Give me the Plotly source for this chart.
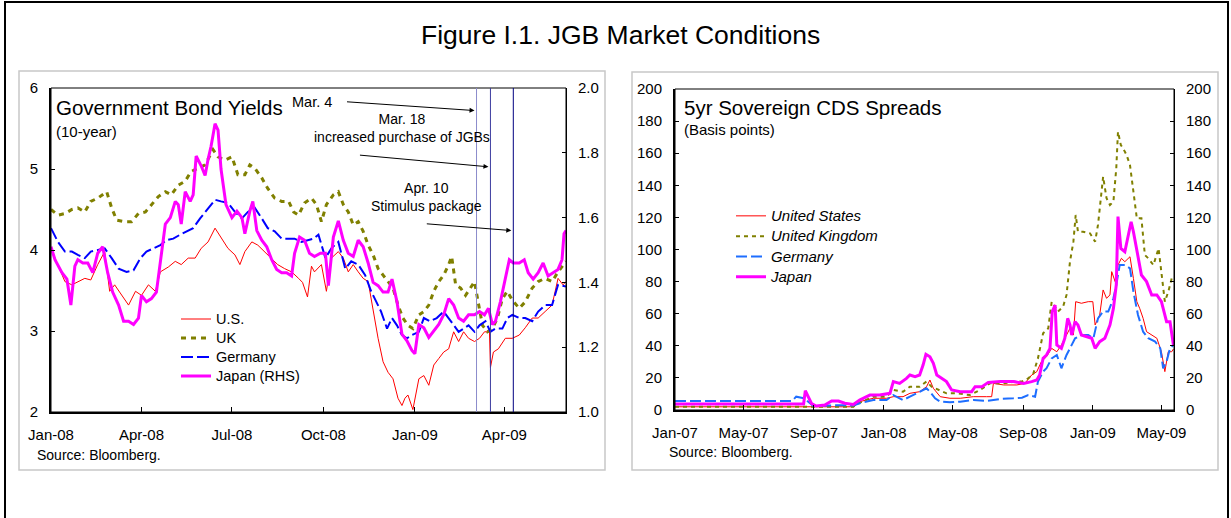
import plotly.graph_objects as go

W, H = 1231, 518
FONT = "Liberation Sans, Arial, sans-serif"

# ---------------- Left panel: 10-year government bond yields ----------------
us_dates = ["2008-01-01","2008-01-08","2008-01-15","2008-01-22","2008-01-28","2008-02-04","2008-02-10","2008-02-17",
            "2008-02-24","2008-02-29","2008-03-05","2008-03-12","2008-03-19","2008-03-26","2008-04-01","2008-04-08",
            "2008-04-15","2008-04-20","2008-04-28","2008-05-05","2008-05-11","2008-05-18","2008-05-25","2008-05-31",
            "2008-06-07","2008-06-14","2008-06-20","2008-06-27","2008-07-04","2008-07-09","2008-07-14","2008-07-21",
            "2008-07-27","2008-08-03","2008-08-10","2008-08-16","2008-08-23","2008-08-30","2008-09-06","2008-09-10",
            "2008-09-15","2008-09-19","2008-09-22","2008-09-29","2008-10-04","2008-10-09","2008-10-16","2008-10-21",
            "2008-10-26","2008-10-31","2008-11-05","2008-11-10","2008-11-15","2008-11-18","2008-11-22","2008-11-25",
            "2008-11-30","2008-12-05","2008-12-10","2008-12-15","2008-12-19","2008-12-22","2008-12-25","2008-12-30",
            "2009-01-05","2009-01-10","2009-01-15","2009-01-20","2009-01-25","2009-01-30","2009-02-04","2009-02-09",
            "2009-02-14","2009-02-19","2009-02-24","2009-03-02","2009-03-07","2009-03-12","2009-03-17","2009-03-18",
            "2009-03-21","2009-03-26","2009-04-02","2009-04-09","2009-04-16","2009-04-22","2009-04-29","2009-05-05",
            "2009-05-12","2009-05-19","2009-05-25","2009-05-30","2009-06-02"]
us_yield = [4.02,3.82,3.61,3.57,3.61,3.65,3.63,3.82,3.98,3.49,3.57,3.44,3.32,3.49,3.44,3.57,3.49,3.73,3.79,3.86,
            3.82,3.90,3.90,4.02,4.10,4.27,4.15,4.02,3.94,3.82,3.98,4.10,4.06,3.98,3.90,3.82,3.77,3.73,3.65,3.60,
            3.42,3.80,3.73,3.82,3.49,3.90,3.98,3.90,3.73,3.82,3.73,3.65,3.61,3.40,3.16,2.91,2.62,2.49,2.41,2.17,
            2.08,2.17,2.21,2.03,2.41,2.45,2.33,2.58,2.66,2.74,2.78,2.99,2.87,2.99,2.91,2.87,2.91,2.99,2.99,2.55,
            2.74,2.78,2.91,2.91,2.95,3.04,3.16,3.16,3.24,3.32,3.65,3.57,3.61]

uk_dates = ["2008-01-01","2008-01-08","2008-01-15","2008-01-22","2008-01-28","2008-02-04","2008-02-10","2008-02-17",
            "2008-02-26","2008-03-02","2008-03-07","2008-03-15","2008-03-22","2008-03-29","2008-04-05","2008-04-11",
            "2008-04-18","2008-04-25","2008-05-01","2008-05-08","2008-05-15","2008-05-21","2008-05-28","2008-06-04",
            "2008-06-12","2008-06-17","2008-06-24","2008-07-01","2008-07-07","2008-07-14","2008-07-19","2008-07-24",
            "2008-07-31","2008-08-06","2008-08-13","2008-08-20","2008-08-27","2008-09-01","2008-09-06","2008-09-12",
            "2008-09-19","2008-09-24","2008-09-29","2008-10-04","2008-10-11","2008-10-16","2008-10-21","2008-10-26",
            "2008-10-31","2008-11-05","2008-11-10","2008-11-15","2008-11-20","2008-11-25","2008-11-30","2008-12-05",
            "2008-12-10","2008-12-15","2008-12-20","2008-12-25","2008-12-30","2009-01-05","2009-01-10","2009-01-15",
            "2009-01-20","2009-01-25","2009-01-30","2009-02-04","2009-02-07","2009-02-11","2009-02-16","2009-02-21",
            "2009-02-26","2009-03-02","2009-03-05","2009-03-10","2009-03-15","2009-03-20","2009-03-25","2009-03-30",
            "2009-04-04","2009-04-09","2009-04-16","2009-04-22","2009-04-29","2009-05-05","2009-05-12","2009-05-19",
            "2009-05-25","2009-06-02"]
uk_yield = [4.50,4.43,4.45,4.50,4.52,4.47,4.60,4.64,4.72,4.52,4.37,4.35,4.35,4.45,4.47,4.56,4.66,4.72,4.68,4.80,
            4.85,4.97,5.01,5.05,5.24,5.15,5.11,5.15,4.93,4.93,5.05,5.01,4.89,4.76,4.64,4.60,4.60,4.47,4.43,4.58,
            4.64,4.56,4.35,4.56,4.68,4.72,4.56,4.47,4.31,4.35,4.23,4.06,3.94,3.77,3.69,3.61,3.53,3.32,3.16,3.07,
            3.03,3.20,3.24,3.32,3.49,3.61,3.69,3.82,3.92,3.57,3.53,3.44,3.53,3.61,3.40,3.07,2.99,3.03,3.16,3.40,
            3.49,3.38,3.28,3.36,3.53,3.61,3.65,3.61,3.73,3.86]

de_dates = ["2008-01-01","2008-01-08","2008-01-15","2008-01-22","2008-01-28","2008-02-04","2008-02-10","2008-02-17",
            "2008-02-24","2008-03-02","2008-03-09","2008-03-17","2008-03-24","2008-03-31","2008-04-06","2008-04-13",
            "2008-04-20","2008-04-26","2008-05-03","2008-05-10","2008-05-16","2008-05-23","2008-05-30","2008-06-07",
            "2008-06-14","2008-06-20","2008-06-27","2008-07-04","2008-07-11","2008-07-17","2008-07-24","2008-07-31",
            "2008-08-06","2008-08-13","2008-08-20","2008-08-27","2008-09-02","2008-09-09","2008-09-16","2008-09-21",
            "2008-09-26","2008-10-03","2008-10-09","2008-10-16","2008-10-23","2008-10-29","2008-11-05","2008-11-12",
            "2008-11-18","2008-11-23","2008-11-28","2008-12-04","2008-12-09","2008-12-14","2008-12-19","2008-12-24",
            "2008-12-29","2009-01-05","2009-01-10","2009-01-16","2009-01-23","2009-01-30","2009-02-04","2009-02-09",
            "2009-02-14","2009-02-19","2009-02-24","2009-03-02","2009-03-07","2009-03-13","2009-03-18","2009-03-23",
            "2009-03-30","2009-04-04","2009-04-09","2009-04-16","2009-04-22","2009-04-29","2009-05-05","2009-05-12",
            "2009-05-19","2009-05-25","2009-06-02"]
de_yield = [4.27,4.10,3.98,3.98,3.94,3.90,3.98,4.00,4.02,3.90,3.77,3.73,3.75,3.90,3.98,4.02,4.06,4.12,4.14,4.19,
            4.23,4.27,4.39,4.52,4.62,4.60,4.58,4.47,4.39,4.47,4.52,4.39,4.27,4.23,4.14,4.14,4.14,4.10,4.12,4.14,
            4.19,3.90,4.02,4.10,3.77,3.86,3.82,3.69,3.49,3.36,3.24,3.03,3.16,3.07,2.95,2.91,2.95,2.99,3.16,3.12,
            3.16,3.24,3.16,3.07,2.99,3.03,3.07,2.99,3.07,3.12,2.99,3.03,3.03,3.16,3.20,3.16,3.16,3.12,3.24,3.32,
            3.32,3.57,3.55]

jp_dates = ["2008-01-01","2008-01-05","2008-01-12","2008-01-17","2008-01-21","2008-01-25","2008-01-28","2008-02-02",
            "2008-02-07","2008-02-12","2008-02-17","2008-02-22","2008-02-27","2008-03-03","2008-03-09","2008-03-14",
            "2008-03-19","2008-03-24","2008-03-29","2008-04-01","2008-04-06","2008-04-11","2008-04-16","2008-04-21",
            "2008-04-25","2008-04-30","2008-05-05","2008-05-08","2008-05-11","2008-05-15","2008-05-20","2008-05-23",
            "2008-05-26","2008-05-31","2008-06-04","2008-06-07","2008-06-10","2008-06-14","2008-06-17","2008-06-20",
            "2008-06-25","2008-07-01","2008-07-06","2008-07-11","2008-07-14","2008-07-19","2008-07-22","2008-07-26",
            "2008-07-31","2008-08-05","2008-08-10","2008-08-15","2008-08-20","2008-08-25","2008-08-30","2008-09-02",
            "2008-09-07","2008-09-12","2008-09-17","2008-09-22","2008-09-28","2008-10-03","2008-10-06","2008-10-11",
            "2008-10-16","2008-10-21","2008-10-26","2008-10-31","2008-11-05","2008-11-10","2008-11-15","2008-11-20",
            "2008-11-25","2008-11-30","2008-12-05","2008-12-09","2008-12-14","2008-12-19","2008-12-24","2008-12-29",
            "2009-01-01","2009-01-05","2009-01-10","2009-01-15","2009-01-20","2009-01-25","2009-01-30","2009-02-04",
            "2009-02-09","2009-02-14","2009-02-19","2009-02-24","2009-03-02","2009-03-07","2009-03-12","2009-03-16",
            "2009-03-20","2009-03-23","2009-03-28","2009-04-02","2009-04-06","2009-04-10","2009-04-16","2009-04-21",
            "2009-04-25","2009-04-30","2009-05-05","2009-05-10","2009-05-15","2009-05-20","2009-05-25","2009-05-29",
            "2009-05-31","2009-06-02"]
jp_yield = [1.51,1.47,1.43,1.41,1.33,1.45,1.47,1.46,1.46,1.43,1.49,1.51,1.43,1.37,1.33,1.28,1.28,1.27,1.29,1.36,
            1.34,1.35,1.37,1.49,1.58,1.60,1.65,1.64,1.58,1.68,1.65,1.67,1.79,1.76,1.73,1.78,1.82,1.89,1.87,1.75,
            1.64,1.60,1.62,1.60,1.55,1.62,1.65,1.56,1.53,1.51,1.47,1.44,1.43,1.43,1.42,1.49,1.54,1.53,1.49,1.48,
            1.49,1.49,1.39,1.54,1.59,1.53,1.49,1.48,1.53,1.51,1.46,1.40,1.39,1.37,1.37,1.41,1.34,1.24,1.22,1.19,
            1.18,1.27,1.26,1.23,1.25,1.27,1.30,1.35,1.33,1.29,1.28,1.30,1.30,1.31,1.30,1.32,1.27,1.28,1.34,1.41,
            1.47,1.46,1.46,1.47,1.43,1.41,1.43,1.46,1.42,1.43,1.44,1.47,1.55,1.56]

event_dates = ["2009-03-04", "2009-03-18", "2009-04-10"]
event_colors = ["#8C8CCC", "#3C3CA0", "#000080"]

left_tickvals = ["2008-01-01","2008-04-01","2008-07-01","2008-10-01","2009-01-01","2009-04-01"]
left_ticktext = ["Jan-08","Apr-08","Jul-08","Oct-08","Jan-09","Apr-09"]

# ---------------- Right panel: 5yr sovereign CDS spreads ----------------
cds_us_dates = ["2007-01-01","2007-11-10","2007-11-20","2007-12-14","2008-01-06","2008-01-18","2008-02-04","2008-02-16",
                "2008-03-04","2008-03-16","2008-03-22","2008-03-28","2008-04-09","2008-04-26","2008-05-14","2008-06-06",
                "2008-06-29","2008-07-08","2008-07-11","2008-07-29","2008-08-21","2008-09-04","2008-09-16","2008-09-25",
                "2008-10-03","2008-10-12","2008-10-21","2008-10-30","2008-11-07","2008-11-16","2008-11-22","2008-11-28",
                "2008-12-02","2008-12-12","2008-12-24","2009-01-01","2009-01-05","2009-01-13","2009-01-19","2009-01-25",
                "2009-01-31","2009-02-03","2009-02-09","2009-02-14","2009-02-20","2009-02-26","2009-03-07","2009-03-13",
                "2009-03-19","2009-03-24","2009-03-30","2009-04-05","2009-04-14","2009-04-23","2009-05-01","2009-05-07",
                "2009-05-13","2009-05-19","2009-05-22"]
cds_us = [2.0,2.0,5.2,7.3,7.3,8.3,8.3,10.4,11.4,14.5,18.7,13.5,8.3,7.3,7.3,8.3,8.3,8.3,16.6,15.6,15.6,16.6,21.8,23.9,
          30.1,33.2,38.4,36.3,40.5,46.7,50.9,46.7,67.5,66.5,67.5,67.5,53.0,59.2,74.8,69.6,71.7,86.2,80.0,90.3,94.5,
          92.4,95.5,82.0,67.5,63.3,57.1,48.8,46.7,44.7,36.3,23.9,36.3,36.3,38.0]

cds_uk_dates = ["2007-01-01","2007-11-09","2007-11-20","2007-12-14","2008-01-06","2008-01-18","2008-02-04","2008-02-16",
                "2008-03-04","2008-03-16","2008-03-25","2008-04-06","2008-04-20","2008-05-08","2008-05-31","2008-06-18",
                "2008-07-05","2008-07-29","2008-08-18","2008-08-30","2008-09-10","2008-09-19","2008-09-27","2008-10-06",
                "2008-10-15","2008-10-21","2008-11-01","2008-11-10","2008-11-16","2008-11-22","2008-11-28","2008-12-02",
                "2008-12-06","2008-12-15","2008-12-27","2009-01-05","2009-01-10","2009-01-15","2009-01-19","2009-01-25",
                "2009-01-31","2009-02-06","2009-02-11","2009-02-14","2009-02-19","2009-02-23","2009-03-01","2009-03-07",
                "2009-03-13","2009-03-19","2009-03-27","2009-04-02","2009-04-08","2009-04-17","2009-04-26","2009-05-01",
                "2009-05-07","2009-05-13","2009-05-19","2009-05-22"]
cds_uk = [2.1,2.1,4.5,8.3,8.3,12.5,11.4,14.5,14.5,17.7,14.5,12.5,10.4,10.4,9.3,12.5,16.6,16.6,17.7,17.7,19.7,22.8,
          32.2,47.8,50.9,67.5,61.3,64.4,71.7,92.4,104.9,121.5,111.1,111.1,110.1,104.9,115.3,131.9,145.4,131.9,127.7,
          129.8,150.6,173.4,165.1,163.0,158.9,152.6,134.0,119.4,119.4,96.6,94.5,90.3,100.7,84.1,67.5,73.7,82.0,80.0]

cds_de_dates = ["2007-01-01","2007-07-25","2007-08-01","2007-08-15","2007-08-31","2007-10-15","2007-11-09","2007-11-20",
                "2007-12-14","2008-01-06","2008-01-18","2008-02-04","2008-02-16","2008-03-04","2008-03-16","2008-03-22",
                "2008-03-31","2008-04-09","2008-04-26","2008-05-14","2008-06-06","2008-06-29","2008-07-23","2008-08-15",
                "2008-08-30","2008-09-10","2008-09-22","2008-09-27","2008-10-06","2008-10-12","2008-10-21","2008-10-30",
                "2008-11-07","2008-11-16","2008-11-25","2008-12-01","2008-12-12","2008-12-24","2009-01-02","2009-01-10",
                "2009-01-19","2009-01-28","2009-02-06","2009-02-11","2009-02-17","2009-02-26","2009-03-07","2009-03-13",
                "2009-03-21","2009-03-30","2009-04-08","2009-04-20","2009-04-29","2009-05-04","2009-05-10","2009-05-16",
                "2009-05-22"]
cds_de = [5.6,5.6,8.3,7.3,2.5,3.0,2.8,4.2,6.2,6.2,9.3,6.2,8.3,11.4,13.5,11.4,7.3,5.2,4.8,5.2,6.2,5.6,6.9,7.3,7.7,
          9.3,8.3,17.7,23.9,26.0,32.2,34.3,26.0,34.3,40.5,44.7,46.7,46.7,44.7,57.1,61.3,61.3,69.6,77.9,90.3,90.3,
          88.3,73.7,59.2,48.8,44.7,42.6,38.4,26.0,30.1,38.4,40.5]

cds_jp_dates = ["2007-01-01","2007-08-14","2007-08-17","2007-08-22","2007-08-28","2007-09-05","2007-09-20","2007-10-02",
                "2007-10-14","2007-10-25","2007-11-09","2007-11-20","2007-12-08","2007-12-25","2008-01-12","2008-01-18",
                "2008-01-29","2008-02-10","2008-02-16","2008-02-25","2008-03-04","2008-03-10","2008-03-15","2008-03-22",
                "2008-03-28","2008-04-03","2008-04-12","2008-04-20","2008-04-29","2008-05-14","2008-05-25","2008-06-03",
                "2008-06-09","2008-06-21","2008-07-02","2008-07-23","2008-08-15","2008-09-02","2008-09-16","2008-09-25",
                "2008-09-30","2008-10-06","2008-10-12","2008-10-18","2008-10-22","2008-10-27","2008-10-30","2008-11-07",
                "2008-11-13","2008-11-18","2008-11-22","2008-11-25","2008-12-01","2008-12-06","2008-12-12","2008-12-21",
                "2008-12-30","2009-01-05","2009-01-13","2009-01-22","2009-01-31","2009-02-06","2009-02-11","2009-02-14",
                "2009-02-19","2009-02-26","2009-03-04","2009-03-09","2009-03-13","2009-03-19","2009-03-27","2009-04-05",
                "2009-04-14","2009-04-23","2009-05-01","2009-05-10","2009-05-16","2009-05-22"]
cds_jp = [3.7,3.7,12.0,8.0,4.0,2.5,3.1,5.6,5.6,4.2,3.5,6.2,9.3,9.3,10.4,17.7,16.6,19.7,21.8,20.8,21.8,28.0,34.7,33.2,
          29.1,21.8,19.7,17.7,12.5,11.4,11.4,11.4,14.5,14.5,17.2,17.7,17.7,16.6,17.7,18.7,21.8,32.2,34.3,38.4,61.3,
          65.4,40.5,38.4,44.7,57.1,53.0,46.7,55.0,53.0,46.7,45.7,44.7,38.4,42.6,44.7,53.0,63.3,77.9,120.5,100.7,98.6,
          109.0,117.3,111.1,98.6,84.1,80.0,71.7,71.7,67.5,55.0,55.0,40.5]

right_tickvals = ["2007-01-01","2007-05-01","2007-09-01","2008-01-01","2008-05-01","2008-09-01","2009-01-01","2009-05-01"]
right_ticktext = ["Jan-07","May-07","Sep-07","Jan-08","May-08","Sep-08","Jan-09","May-09"]


def px(x):
    return x / W


def py(y):
    return (H - y) / H


def leg_name(name, size):
    # legend label drawn at the given size while the legend row spacing stays compact
    return '<span style="font-size:%spx">%s</span>' % (size, name)


fig = go.Figure()

# left panel traces
fig.add_trace(go.Scatter(x=us_dates, y=us_yield, name=leg_name("U.S.", 14.5), mode="lines",
                         line=dict(color="#FF0000", width=1), xaxis="x", yaxis="y", legend="legend"))
fig.add_trace(go.Scatter(x=uk_dates, y=uk_yield, name=leg_name("UK", 14.5), mode="lines",
                         line=dict(color="#808000", width=3, dash="5px,5px"), xaxis="x", yaxis="y", legend="legend"))
fig.add_trace(go.Scatter(x=de_dates, y=de_yield, name=leg_name("Germany", 14.5), mode="lines",
                         line=dict(color="#0000FF", width=2, dash="12px,4px"), xaxis="x", yaxis="y", legend="legend"))
fig.add_trace(go.Scatter(x=jp_dates, y=jp_yield, name=leg_name("Japan (RHS)", 14.5), mode="lines",
                         line=dict(color="#FF00FF", width=3), xaxis="x", yaxis="y2", legend="legend"))

# right panel traces
fig.add_trace(go.Scatter(x=cds_us_dates, y=cds_us, name=leg_name("United States", 15), mode="lines",
                         line=dict(color="#FF0000", width=1), xaxis="x2", yaxis="y3", legend="legend2"))
fig.add_trace(go.Scatter(x=cds_uk_dates, y=cds_uk, name=leg_name("United Kingdom", 15), mode="lines",
                         line=dict(color="#808000", width=2, dash="4px,4px"), xaxis="x2", yaxis="y3", legend="legend2"))
fig.add_trace(go.Scatter(x=cds_de_dates, y=cds_de, name=leg_name("Germany", 15), mode="lines",
                         line=dict(color="#1E6EFF", width=2, dash="11px,4px"), xaxis="x2", yaxis="y3", legend="legend2"))
fig.add_trace(go.Scatter(x=cds_jp_dates, y=cds_jp, name=leg_name("Japan", 15), mode="lines",
                         line=dict(color="#FF00FF", width=3), xaxis="x2", yaxis="y4", legend="legend2"))

tickfont = dict(family=FONT, size=15, color="black")
common_y = dict(showgrid=False, zeroline=False, ticks="inside", ticklen=4, tickwidth=1, tickcolor="black",
                tickfont=tickfont, fixedrange=True, ticklabelstandoff=8, automargin=False)
common_x = dict(type="date", showgrid=False, zeroline=False, ticks="inside", ticklen=5, tickwidth=1,
                tickcolor="black", tickfont=tickfont, showline=True, linewidth=2, linecolor="black",
                ticklabelstandoff=8, automargin=False)

fig.update_layout(
    width=W, height=H,
    margin=dict(l=0, r=0, t=0, b=0, pad=0, autoexpand=False),
    paper_bgcolor="white", plot_bgcolor="white",
    font=dict(family=FONT, color="black"),
    xaxis=dict(domain=[px(51), px(566)], anchor="y", range=["2008-01-01", "2009-06-02"],
               tickvals=left_tickvals, ticktext=left_ticktext, **common_x),
    yaxis=dict(domain=[py(412), py(88)], anchor="x", range=[2, 6], dtick=1, showline=True, linewidth=2,
               linecolor="black", **common_y),
    yaxis2=dict(overlaying="y", side="right", anchor="x", range=[1.0, 2.0], dtick=0.2, tickformat=".1f",
                showline=True, linewidth=1, linecolor="black", **common_y),
    xaxis2=dict(domain=[px(675), px(1174)], anchor="y3", range=["2007-01-01", "2009-05-23"],
                tickvals=right_tickvals, ticktext=right_ticktext, **common_x),
    yaxis3=dict(domain=[py(410), py(89)], anchor="x2", range=[0, 200], dtick=20, showline=True, linewidth=2,
                linecolor="black", **common_y),
    yaxis4=dict(overlaying="y3", side="right", anchor="x2", range=[0, 200], dtick=20,
                showline=True, linewidth=1, linecolor="black", **common_y),
    legend=dict(x=px(176), y=py(304.5), xanchor="left", yanchor="top", bgcolor="rgba(0,0,0,0)",
                font=dict(family=FONT, size=11.5, color="black"), tracegroupgap=0, itemwidth=30),
    legend2=dict(x=px(731), y=py(200.7), xanchor="left", yanchor="top", bgcolor="rgba(0,0,0,0)",
                 font=dict(family=FONT, size=13.3, color="black", style="italic"), tracegroupgap=0, itemwidth=30),
    showlegend=True,
)

shapes = []
# outer border and panel frames
shapes.append(dict(type="rect", xref="paper", yref="paper", x0=px(5), x1=px(1228), y0=py(540), y1=py(2),
                   line=dict(color="black", width=2), layer="below"))
shapes.append(dict(type="rect", xref="paper", yref="paper", x0=px(19), x1=px(605), y0=py(470), y1=py(71),
                   line=dict(color="#C8C8C8", width=1.5), layer="below"))
shapes.append(dict(type="rect", xref="paper", yref="paper", x0=px(632), x1=px(1218), y0=py(470), y1=py(72),
                   line=dict(color="#C8C8C8", width=1.5), layer="below"))
# plot area frames
shapes.append(dict(type="rect", xref="x domain", yref="y domain", x0=0, x1=1, y0=0, y1=1,
                   line=dict(color="black", width=1)))
shapes.append(dict(type="rect", xref="x2 domain", yref="y3 domain", x0=0, x1=1, y0=0, y1=1,
                   line=dict(color="black", width=1)))
# event lines
for d, c in zip(event_dates, event_colors):
    shapes.append(dict(type="line", xref="x", yref="y domain", x0=d, x1=d, y0=0, y1=1,
                       line=dict(color=c, width=1)))
fig.update_layout(shapes=shapes)

ann = []
ann.append(dict(text="Figure I.1. JGB Market Conditions", xref="paper", yref="paper", x=px(620), y=py(35),
                xanchor="center", yanchor="middle", showarrow=False, font=dict(size=26.5, family=FONT)))
ann.append(dict(text="Government Bond Yields", xref="paper", yref="paper", x=px(54), y=py(107.7),
                xanchor="left", yanchor="middle", showarrow=False, font=dict(size=20.5, family=FONT)))
ann.append(dict(text="(10-year)", xref="paper", yref="paper", x=px(54), y=py(131),
                xanchor="left", yanchor="middle", showarrow=False, font=dict(size=15, family=FONT)))
ann.append(dict(text="5yr Sovereign CDS Spreads", xref="paper", yref="paper", x=px(682), y=py(107.7),
                xanchor="left", yanchor="middle", showarrow=False, font=dict(size=20.5, family=FONT)))
ann.append(dict(text="(Basis points)", xref="paper", yref="paper", x=px(682), y=py(129.3),
                xanchor="left", yanchor="middle", showarrow=False, font=dict(size=15, family=FONT)))
ann.append(dict(text="Source: Bloomberg.", xref="paper", yref="paper", x=px(35), y=py(455),
                xanchor="left", yanchor="middle", showarrow=False, font=dict(size=14, family=FONT)))
ann.append(dict(text="Source: Bloomberg.", xref="paper", yref="paper", x=px(667), y=py(451.7),
                xanchor="left", yanchor="middle", showarrow=False, font=dict(size=14, family=FONT)))
ann.append(dict(text="Mar. 4", xref="paper", yref="paper", x=px(312), y=py(102),
                xanchor="center", yanchor="middle", showarrow=False, font=dict(size=14.5, family=FONT)))
ann.append(dict(text="Mar. 18<br>increased purchase of JGBs", xref="paper", yref="paper", x=px(401.5), y=py(127.9),
                xanchor="center", yanchor="middle", showarrow=False, align="center", font=dict(size=14, family=FONT)))
ann.append(dict(text="Apr. 10<br>Stimulus package", xref="paper", yref="paper", x=px(426.7), y=py(197.4),
                xanchor="center", yanchor="middle", showarrow=False, align="center", font=dict(size=14, family=FONT)))
# arrows pointing at the event lines
arrow_heads_y = [110.7, 167, 230.7]
arrow_tails = [(-131, -9), (-132, -12), (-88, -7)]
for d, hy, (axp, ayp) in zip(event_dates, arrow_heads_y, arrow_tails):
    ann.append(dict(text="", xref="x", yref="paper", x=d, y=py(hy), ax=axp, ay=ayp, showarrow=True,
                    arrowhead=2, arrowsize=1, arrowwidth=1, arrowcolor="black", standoff=2))
fig.update_layout(annotations=ann)

# remove the browser's default page margin so the figure sits at the window origin
fig.write_html("out.html", config={"displayModeBar": False},
               post_script="document.body.style.margin='0';")
